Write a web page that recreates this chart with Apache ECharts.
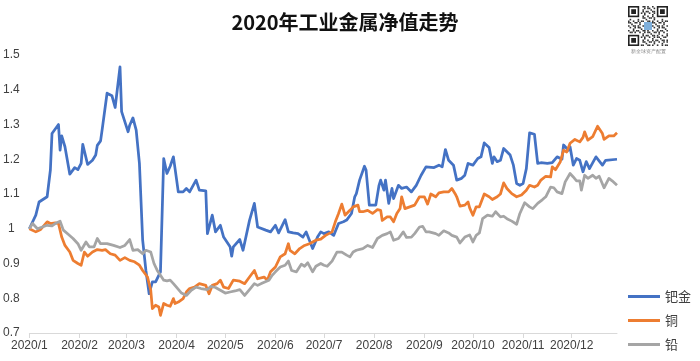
<!DOCTYPE html>
<html><head><meta charset="utf-8">
<script src="https://cdn.jsdelivr.net/npm/echarts@6/dist/echarts.min.js"></script>
<style>html,body{margin:0;padding:0;background:#fff}#c{width:700px;height:361px}</style>
</head><body><div id="c"></div>
<script>
// [day of year offset from 2020-01-01, value]
const palladium = [[0,1.0],[4,1.039],[6,1.077],[11,1.092],[13,1.169],[14,1.274],[18,1.30],[19,1.226],[20,1.267],[22,1.236],[25,1.157],[28,1.176],[30,1.17],[32,1.188],[33,1.243],[34,1.243],[36,1.185],[39,1.197],[41,1.212],[42,1.24],[44,1.253],[45,1.286],[48,1.39],[51,1.383],[53,1.349],[56,1.466],[57,1.337],[61,1.279],[62,1.298],[64,1.319],[66,1.284],[68,1.188],[70,0.967],[72,0.88],[74,0.813],[76,0.847],[78,0.847],[81,0.876],[83,1.202],[85,1.159],[87,1.18],[89,1.207],[91,1.14],[92,1.106],[95,1.106],[97,1.116],[99,1.106],[103,1.14],[105,1.111],[109,1.109],[110,0.986],[113,1.039],[115,0.991],[118,1.01],[120,0.976],[124,0.948],[125,0.921],[126,0.948],[130,0.969],[132,0.938],[136,1.024],[139,1.073],[141,1.005],[146,0.996],[149,0.991],[152,1.01],[154,0.988],[158,1.026],[160,0.991],[163,0.988],[166,0.986],[169,0.976],[171,0.991],[175,0.943],[178,0.976],[180,0.991],[182,0.986],[185,0.991],[188,0.981],[191,1.015],[194,1.02],[196,1.025],[199,1.044],[201,1.092],[202,1.101],[204,1.14],[207,1.18],[208,1.169],[210,1.068],[214,1.068],[216,1.125],[217,1.14],[219,1.111],[220,1.14],[222,1.073],[224,1.116],[225,1.087],[228,1.125],[230,1.116],[233,1.12],[236,1.106],[239,1.125],[242,1.154],[245,1.178],[246,1.173],[250,1.176],[253,1.183],[255,1.178],[257,1.228],[259,1.197],[262,1.183],[264,1.14],[267,1.145],[269,1.154],[271,1.188],[274,1.183],[277,1.202],[279,1.207],[281,1.247],[284,1.234],[286,1.188],[287,1.207],[289,1.193],[291,1.197],[293,1.231],[294,1.228],[297,1.212],[299,1.183],[301,1.13],[303,1.125],[305,1.13],[307,1.173],[309,1.276],[312,1.272],[314,1.188],[316,1.19],[320,1.188],[323,1.19],[326,1.207],[329,1.2],[330,1.241],[333,1.226],[334,1.236],[336,1.183],[338,1.202],[340,1.197],[342,1.164],[344,1.193],[346,1.173],[350,1.207],[354,1.183],[356,1.197],[363,1.2]];
const copper = [[0,1.0],[4,0.991],[7,0.998],[11,1.02],[13,1.015],[16,1.017],[18,1.015],[20,0.976],[22,0.952],[25,0.933],[27,0.909],[30,0.9],[32,0.895],[34,0.933],[36,0.921],[39,0.933],[42,0.94],[45,0.938],[47,0.94],[50,0.928],[53,0.924],[56,0.909],[59,0.917],[62,0.909],[65,0.905],[68,0.895],[70,0.88],[73,0.861],[75,0.823],[76,0.77],[78,0.78],[80,0.775],[81,0.751],[83,0.785],[85,0.78],[87,0.777],[89,0.799],[90,0.785],[92,0.789],[95,0.799],[97,0.818],[99,0.828],[102,0.832],[105,0.842],[109,0.837],[111,0.813],[113,0.837],[116,0.842],[118,0.852],[120,0.832],[123,0.828],[126,0.852],[130,0.849],[133,0.842],[136,0.861],[139,0.88],[141,0.856],[145,0.861],[147,0.852],[149,0.876],[152,0.89],[155,0.919],[158,0.928],[160,0.957],[161,0.938],[164,0.928],[167,0.943],[170,0.952],[173,0.957],[177,0.967],[180,0.97],[183,0.981],[185,0.986],[187,0.991],[189,1.02],[191,1.044],[193,1.071],[195,1.039],[198,1.053],[200,1.063],[203,1.068],[204,1.049],[206,1.049],[209,1.053],[212,1.044],[215,1.055],[217,1.053],[218,1.024],[221,1.034],[223,1.034],[225,1.02],[227,1.044],[229,1.058],[230,1.092],[232,1.058],[235,1.063],[238,1.068],[241,1.092],[244,1.092],[246,1.071],[248,1.1],[251,1.092],[253,1.103],[256,1.106],[259,1.106],[261,1.116],[263,1.101],[264,1.092],[266,1.065],[269,1.068],[271,1.077],[272,1.06],[274,1.039],[276,1.063],[278,1.063],[281,1.1],[284,1.092],[286,1.084],[289,1.092],[291,1.1],[293,1.132],[295,1.116],[298,1.101],[301,1.092],[304,1.097],[307,1.111],[309,1.125],[312,1.12],[314,1.125],[316,1.14],[319,1.151],[322,1.149],[323,1.178],[325,1.17],[328,1.193],[330,1.226],[332,1.221],[334,1.246],[337,1.257],[340,1.25],[342,1.263],[343,1.279],[345,1.255],[348,1.265],[351,1.295],[354,1.274],[355,1.257],[358,1.267],[361,1.267],[363,1.276]];
const lead = [[0,1.0],[2,1.015],[5,1.0],[8,1.005],[11,1.01],[14,1.008],[16,1.015],[19,1.022],[21,0.996],[24,0.984],[27,0.972],[30,0.957],[32,0.938],[35,0.962],[37,0.948],[40,0.948],[42,0.972],[44,0.957],[48,0.957],[52,0.952],[56,0.946],[59,0.952],[62,0.969],[64,0.938],[67,0.94],[70,0.928],[72,0.938],[75,0.933],[77,0.9],[79,0.88],[81,0.866],[83,0.852],[85,0.85],[87,0.852],[89,0.842],[91,0.831],[94,0.815],[97,0.808],[100,0.823],[103,0.832],[106,0.828],[110,0.825],[112,0.834],[115,0.831],[118,0.823],[121,0.815],[124,0.818],[127,0.821],[130,0.825],[133,0.808],[136,0.825],[139,0.842],[141,0.837],[144,0.844],[148,0.852],[150,0.866],[152,0.876],[155,0.89],[158,0.895],[160,0.907],[162,0.88],[165,0.876],[168,0.898],[170,0.892],[172,0.902],[175,0.876],[177,0.892],[180,0.9],[182,0.895],[184,0.892],[187,0.907],[190,0.933],[193,0.933],[196,0.924],[198,0.919],[200,0.933],[202,0.938],[206,0.943],[209,0.952],[212,0.946],[215,0.972],[218,0.981],[221,0.986],[223,0.991],[225,0.967],[228,0.972],[231,0.991],[233,0.975],[236,0.976],[238,0.986],[241,1.005],[243,1.007],[245,0.991],[247,0.991],[251,0.986],[253,0.981],[256,0.994],[259,0.988],[261,0.981],[264,0.976],[266,0.959],[269,0.976],[272,0.982],[274,0.962],[276,0.981],[278,0.988],[280,1.029],[283,1.039],[286,1.036],[288,1.049],[291,1.034],[293,1.036],[295,1.029],[298,1.022],[301,1.013],[303,1.044],[306,1.075],[309,1.063],[311,1.058],[314,1.073],[317,1.084],[319,1.092],[322,1.12],[324,1.118],[326,1.106],[329,1.101],[331,1.135],[334,1.159],[336,1.149],[338,1.138],[340,1.138],[341,1.111],[343,1.154],[345,1.145],[348,1.154],[350,1.145],[352,1.151],[355,1.118],[358,1.145],[360,1.138],[363,1.125]];
const seriesNames = ['钯金','铜','铅'];
const seriesColors = ['#4472C4','#ED7D31','#A5A5A5'];
const titleText = '2020年工业金属净值走势';
const qrCaption = '新全球资产配置';

function toTime(d){ return new Date(2020,0,1+d).getTime(); }
function mk(arr){ return arr.map(p => [toTime(p[0]), p[1]]); }

// decorative QR-like badge
const qr = [];
const M = 1.6, N = 25, qx = 628, qy = 6;
qr.push({type:'rect', shape:{x:qx-1,y:qy-1,width:N*M+2,height:N*M+2}, style:{fill:'#fff'}});
function finder(cx, cy){
  qr.push({type:'rect', shape:{x:qx+cx*M,y:qy+cy*M,width:7*M,height:7*M}, style:{fill:'#222'}});
  qr.push({type:'rect', shape:{x:qx+(cx+1)*M,y:qy+(cy+1)*M,width:5*M,height:5*M}, style:{fill:'#fff'}});
  qr.push({type:'rect', shape:{x:qx+(cx+2)*M,y:qy+(cy+2)*M,width:3*M,height:3*M}, style:{fill:'#222'}});
}
for (let i=0;i<N;i++) for (let j=0;j<N;j++){
  const inF = (i<8&&j<8)||(i<8&&j>=N-8)||(i>=N-8&&j<8);
  if (inF) continue;
  if (((i*7 + j*13 + i*j) % 3) === 0 || ((i+j*3)%5===0)) {
    qr.push({type:'rect', shape:{x:qx+i*M,y:qy+j*M,width:M,height:M}, style:{fill:'#333'}});
  }
}
finder(0,0); finder(N-7,0); finder(0,N-7);
qr.push({type:'rect', shape:{x:qx+10*M,y:qy+10*M,width:5*M,height:5*M}, style:{fill:'#7fb0dc'}});
qr.push({type:'text', style:{text:qrCaption, x:qx+N*M/2, y:qy+N*M+3, fontSize:5, fill:'#888', align:'center', verticalAlign:'top'}});

const chart = echarts.init(document.getElementById('c'));
chart.setOption({
  animation:false,
  backgroundColor:'#fff',
  title:{text:titleText, left:340, top:7, textAlign:'center',
    textStyle:{fontFamily:'Noto Sans CJK SC', fontSize:20, fontWeight:'bold', color:'#111'}},
  legend:{orient:'vertical', left:628, top:290, height:80, padding:0, itemWidth:32, itemHeight:3, itemGap:11, icon:'rect',
    textStyle:{fontFamily:'Noto Sans CJK SC', fontSize:13, color:'#404040'}, data:seriesNames},
  grid:{left:29.3, right:83, top:55, bottom:28, containLabel:false},
  xAxis:{type:'time', min:toTime(0), max:toTime(363), splitNumber:12,
    axisLine:{lineStyle:{color:'#d9d9d9', width:1}},
    axisTick:{show:true, length:5, lineStyle:{color:'#d9d9d9'}},
    splitLine:{show:false}, minorTick:{show:false},
    axisLabel:{color:'#404040', fontSize:12, fontFamily:'Liberation Sans', margin:7, hideOverlap:false,
      formatter:function(v){ const d=new Date(v); return d.getFullYear()+'/'+(d.getMonth()+1); }}},
  yAxis:{type:'value', min:0.7, max:1.5, interval:0.1,
    axisLine:{show:false}, axisTick:{show:false}, splitLine:{show:false},
    axisLabel:{color:'#404040', fontSize:12, fontFamily:'Liberation Sans', align:'center', margin:18,
      formatter:function(v){ return String(+v.toFixed(1)); }}},
  series:[
    {name:seriesNames[0], type:'line', data:mk(palladium), showSymbol:false, color:seriesColors[0], lineStyle:{width:2.75, join:'round'}},
    {name:seriesNames[1], type:'line', data:mk(copper), showSymbol:false, color:seriesColors[1], lineStyle:{width:2.75, join:'round'}},
    {name:seriesNames[2], type:'line', data:mk(lead), showSymbol:false, color:seriesColors[2], lineStyle:{width:2.75, join:'round'}}
  ],
  graphic: qr
});
</script></body></html>
